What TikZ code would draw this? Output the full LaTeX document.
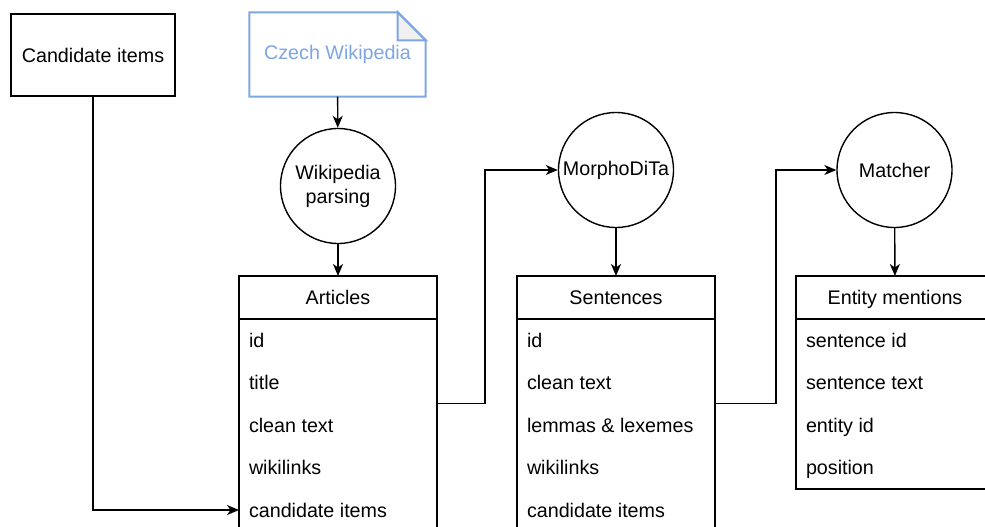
\documentclass[tikz,border=0pt]{standalone}
\usepackage{fontspec}
\setmainfont{Liberation Sans}
\usetikzlibrary{arrows.meta}
\definecolor{wikiblue}{HTML}{7EA6E0}
\tikzset{
	box/.style={draw,minimum width=164,minimum height=82,inner sep=0},
	doc/.style={minimum width=175,minimum height=83,inner sep=0,text=wikiblue},
	proc/.style={draw,circle,minimum size=115,inner sep=0,align=center},
	tbl/.style={draw,minimum width=198,inner sep=0,outer sep=0},
	tblhead/.style={draw,minimum width=198,minimum height=43,inner sep=0,outer sep=0,anchor=north,text height=16,text depth=2},
	tblrow/.style={anchor=west,inner xsep=10,inner ysep=0,outer sep=0,text height=16,text depth=2}
}
\begin{document}
\begin{tikzpicture}[x=1pt,y=-1pt,>={Stealth[length=12pt,width=10pt,inset=3.5pt]},line width=1.4pt,font=\fontsize{19.7}{24}\selectfont]
	\useasboundingbox (0,0) rectangle (985,527);
	\clip (0,0) rectangle (985,527);
	% inputs
	\node[box] (cand) at (93,55) {Candidate items};
	\node[doc] (wiki) at (337.5,54.5) {Czech Wikipedia};
	\draw[wikiblue,line width=2pt] (wiki.north west) -- ([xshift=-28]wiki.north east) -- ([yshift=-28]wiki.north east) -- (wiki.south east) -- (wiki.south west) -- cycle;
	\filldraw[draw=wikiblue,fill=gray!12,line width=2pt] ([xshift=-28]wiki.north east) -- ([xshift=-28,yshift=-28]wiki.north east) -- ([yshift=-28]wiki.north east) -- cycle;
	% processing steps
	\node[proc] (parse) at (338,186) {Wikipedia\\parsing};
	\node[proc] (morpho) at (616,170) {MorphoDiTa};
	\node[proc] (match) at (894.5,170) {Matcher};
	% tables
	\node[tbl,minimum height=255] (art) at (338,403.5) {};
	\node[tblhead] (arthead) at (art.north) {Articles};
	\foreach \t [count=\i] in {id,title,clean text,wikilinks,candidate items}
		\node[tblrow] (art-\i) at (239,{297.5+42.5*\i}) {\t};
	\node[tbl,minimum height=255] (sent) at (616,403.5) {};
	\node[tblhead] (senthead) at (sent.north) {Sentences};
	\foreach \t [count=\i] in {id,clean text,lemmas \& lexemes,wikilinks,candidate items}
		\node[tblrow] (sent-\i) at (517,{297.5+42.5*\i}) {\t};
	\node[tbl,minimum height=213] (ent) at (895,382.5) {};
	\node[tblhead] (enthead) at (ent.north) {Entity mentions};
	\foreach \t [count=\i] in {sentence id,sentence text,entity id,position}
		\node[tblrow] (ent-\i) at (796,{297.5+42.5*\i}) {\t};
	% connectors
	\draw[->] (wiki) -- (parse);
	\draw[->] (parse) -- (arthead);
	\draw[->] (morpho) -- (senthead);
	\draw[->] (match) -- (enthead);
	\draw[->] (cand) |- (art-5.west);
	\draw[->] (art.east) -- ++(48,0) |- (morpho.west);
	\draw[->] (sent.east) -- ++(61,0) |- (match.west);
\end{tikzpicture}
\end{document}
